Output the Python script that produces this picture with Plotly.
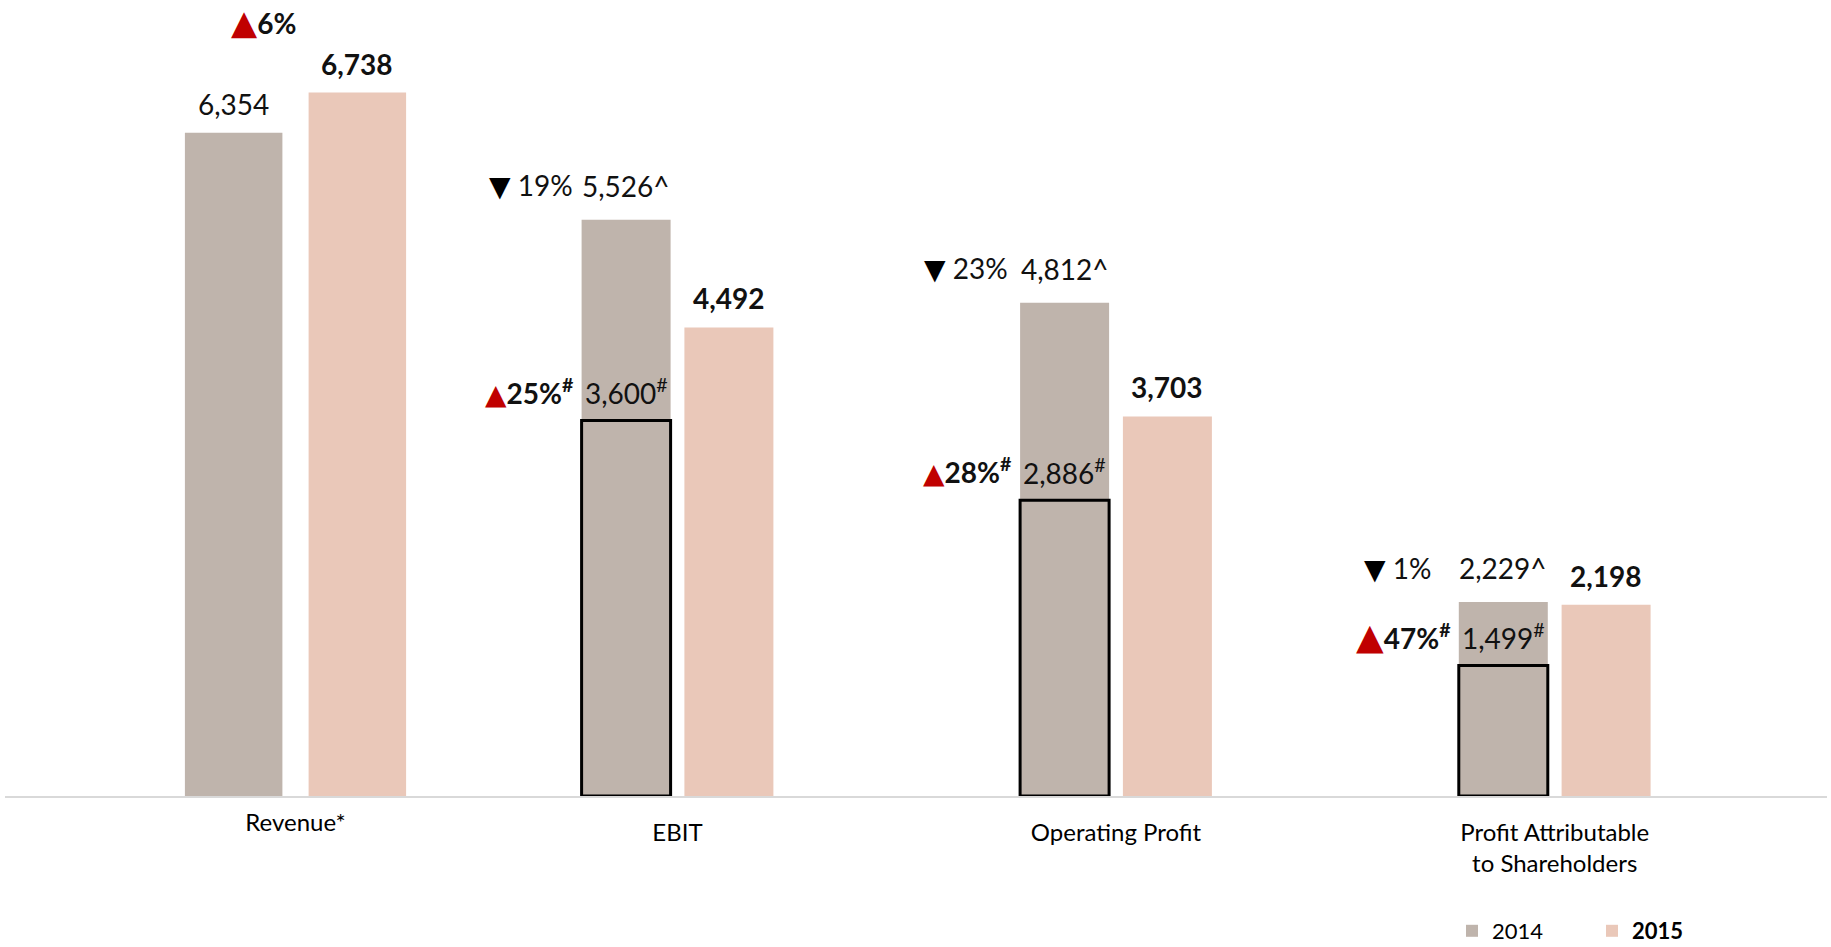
import plotly.graph_objects as go

# ---------------- data ----------------
categories = ["Revenue*", "EBIT", "Operating Profit", "Profit Attributable<br>to Shareholders"]
values_2014 = [6354, 5526, 4812, 2229]
values_2015 = [6738, 4492, 3703, 2198]
restated_2014 = [None, 3600, 2886, 1499]          # '#' figures (outlined boxes)
change_down = [None, "19%", "23%", "1%"]           # ▼ change vs reported 2014 (^)
change_up = ["6%", "25%", "28%", "47%"]            # ▲ change
series_names = ["2014", "2015"]

# ---------------- styling / layout constants ----------------
W, H = 1831, 947
PLOT_H = 796                     # baseline position (px from top)
C14, C15 = "#BFB4AC", "#EAC8B9"
RED = "#C00000"
TXT = "#111111"
FONT = "Lato"
TRI = "font-family:DejaVu Sans;"

centers_px = [295.5, 677.5, 1116.0, 1554.7]   # group centre on the page
unit_px = [527, 438, 438, 438]                 # px per category unit
half_rng = [0.3, 0.5, 0.5, 0.5]
px_per_val = [0.1044, 0.1043, 0.1025, 0.087]
bar_px = [97.5, 89, 89, 89]
slot_px = [123.7, 102.8, 102.8, 102.8]
up_tri_size = [34, 28, 28, 36]
down_gap = [0, 7, 10, 26]

fig = go.Figure()
annotations = []
layout_axes = {}

for i, cat in enumerate(categories):
    sfx = "" if i == 0 else str(i + 1)
    xa, ya = "x" + sfx, "y" + sfx
    u = unit_px[i]
    bw = bar_px[i] / u
    off14 = -(slot_px[i] / 2 + bar_px[i] / 2) / u
    off15 = (slot_px[i] / 2 - bar_px[i] / 2) / u

    fig.add_trace(go.Bar(x=[cat], y=[values_2014[i]], name=series_names[0],
                         marker=dict(color=C14, line=dict(width=0)),
                         width=[bw], offset=[off14], xaxis=xa, yaxis=ya,
                         legendgroup="2014", showlegend=(i == 0), hoverinfo="skip"))
    fig.add_trace(go.Bar(x=[cat], y=[values_2015[i]], name="<b>" + series_names[1] + "</b>",
                         marker=dict(color=C15, line=dict(width=0)),
                         width=[bw], offset=[off15], xaxis=xa, yaxis=ya,
                         legendgroup="2015", showlegend=(i == 0), hoverinfo="skip"))
    if restated_2014[i] is not None:
        fig.add_trace(go.Bar(x=[cat], y=[restated_2014[i]], name="restated",
                             marker=dict(color="rgba(0,0,0,0)", line=dict(color="#000000", width=3)),
                             width=[bw], offset=[off14], xaxis=xa, yaxis=ya,
                             showlegend=False, hoverinfo="skip"))

    c = centers_px[i]
    h = half_rng[i]
    layout_axes["xaxis" + sfx] = dict(
        domain=[(c - h * u) / W, (c + h * u) / W], range=[-h, h],
        type="category", categoryorder="array", categoryarray=[cat],
        anchor=ya, showgrid=False, zeroline=False, showline=False, ticks="",
        tickfont=dict(family=FONT, size=24, color="#000000"),
        ticklabelstandoff=(10 if i == 0 else 20), automargin=False, fixedrange=True)
    layout_axes["yaxis" + sfx] = dict(
        domain=[0, 1], range=[0, PLOT_H / px_per_val[i]], anchor=xa,
        visible=False, fixedrange=True)

    x14 = -slot_px[i] / 2
    x15 = slot_px[i] / 2
    caret = "^" if restated_2014[i] is not None else ""
    sh14 = 34 if caret else 29
    base = dict(xref=xa, yref=ya, x=cat, showarrow=False, yanchor="middle",
                font=dict(family=FONT, size=28, color=TXT))
    annotations.append(dict(base, y=values_2014[i], xshift=x14, yshift=sh14,
                            text=f"{values_2014[i]:,}" + caret))
    annotations.append(dict(base, y=values_2015[i], xshift=x15, yshift=29,
                            text=f"<b>{values_2015[i]:,}</b>"))
    if change_down[i] is not None:
        annotations.append(dict(base, y=values_2014[i], xanchor="right",
                                xshift=x14 - bar_px[i] / 2 - down_gap[i], yshift=sh14,
                                text=f"<span style='{TRI}font-size:28px;color:#000000'>▼</span> " + change_down[i]))
    if restated_2014[i] is not None:
        annotations.append(dict(base, y=restated_2014[i], xshift=x14, yshift=29,
                                text=f"{restated_2014[i]:,}<sup>#</sup>"))
        annotations.append(dict(base, y=restated_2014[i], xanchor="right",
                                xshift=x14 - bar_px[i] / 2 - 6, yshift=29,
                                text=f"<span style='{TRI}font-size:{up_tri_size[i]}px;color:{RED}'>▲</span><b>{change_up[i]}<sup>#</sup></b>"))
    else:
        annotations.append(dict(base, y=values_2015[i], xshift=-32, yshift=71,
                                text=f"<span style='{TRI}font-size:{up_tri_size[i]}px;color:{RED}'>▲</span><b>{change_up[i]}</b>"))

fig.update_layout(
    width=W, height=H, barmode="overlay",
    margin=dict(l=0, r=0, t=0, b=H - PLOT_H, pad=0, autoexpand=False),
    paper_bgcolor="#FFFFFF", plot_bgcolor="rgba(0,0,0,0)",
    showlegend=True,
    legend=dict(orientation="h", x=1452 / W, xanchor="left",
                y=-(931 - PLOT_H) / PLOT_H, yanchor="middle",
                font=dict(family=FONT, size=22, color="#000000"),
                itemwidth=30, entrywidth=95, entrywidthmode="pixels",
                bgcolor="rgba(0,0,0,0)"),
    annotations=annotations,
    shapes=[dict(type="line", xref="paper", yref="paper", x0=5 / W, x1=1827 / W,
                 y0=-1 / PLOT_H, y1=-1 / PLOT_H, layer="below",
                 line=dict(color="#D9D9D9", width=2))],
    **layout_axes,
)

fig.write_html("out.html", include_plotlyjs=True, config={"displayModeBar": False},
               post_script="document.body.style.margin='0';document.body.style.overflow='hidden';")
